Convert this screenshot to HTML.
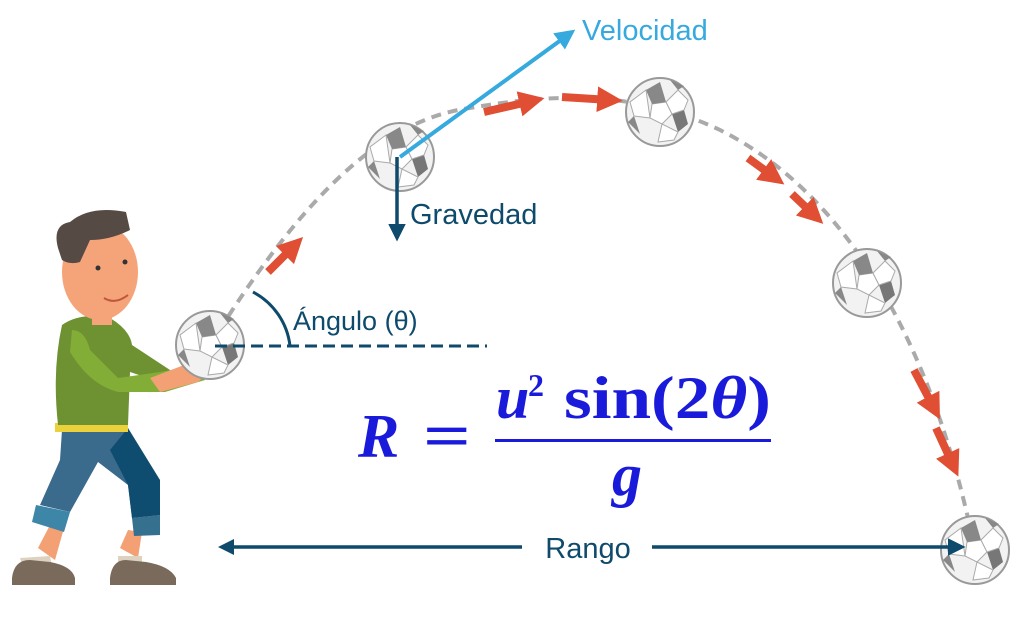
<!DOCTYPE html><html><head><meta charset="utf-8"><style>body{margin:0;background:#fff}svg{display:block}</style></head><body>
<svg width="1024" height="623" viewBox="0 0 1024 623" xmlns="http://www.w3.org/2000/svg" font-family="Liberation Sans, sans-serif">
<defs>
<g id="ball"><circle r="34" fill="#f2f2f2" stroke="#999" stroke-width="2"/>
<polygon points="-8,-8 6,-10 12,2 2,12 -10,6" fill="#fff" stroke="#aaa"/>
<polygon points="12,2 24,-2 28,12 18,20" fill="#777"/>
<polygon points="-8,-8 -14,-22 0,-30 6,-10" fill="#888"/>
<polygon points="-10,6 -26,4 -30,-10 -14,-22" fill="#fff" stroke="#aaa"/>
<polygon points="-26,4 -20,22 -32,10" fill="#888"/>
<polygon points="2,12 -2,30 14,28 18,20" fill="#fff" stroke="#aaa"/>
<polygon points="6,-10 18,-22 28,-12 24,-2 12,2" fill="#fff" stroke="#aaa"/>
<polygon points="18,-22 10,-32 24,-26" fill="#888"/>
</g>
<marker id="ah" viewBox="0 0 10 10" refX="8" refY="5" markerWidth="5" markerHeight="5" orient="auto"><path d="M0,0L10,5L0,10z" fill="#0d4a6b"/></marker>
<marker id="ahb" viewBox="0 0 10 10" refX="8" refY="5" markerWidth="5" markerHeight="5" orient="auto"><path d="M0,0L10,5L0,10z" fill="#36a9de"/></marker>
<marker id="ahr" viewBox="0 0 10 10" refX="5" refY="5" markerWidth="3.2" markerHeight="3.2" orient="auto"><path d="M0,0L10,5L0,10z" fill="#e04e33"/></marker>
</defs>
<!-- trajectory -->
<path d="M210,345 C300,200 380,120 470,108 C560,92 640,92 720,130 C840,190 930,330 975,550" fill="none" stroke="#aaa" stroke-width="4" stroke-dasharray="10,7"/>
<g stroke="#e04e33" stroke-width="8" marker-end="url(#ahr)">
<line x1="268" y1="272" x2="294" y2="246"/>
<line x1="484" y1="112" x2="532" y2="101"/>
<line x1="562" y1="97" x2="610" y2="100"/>
<line x1="748" y1="158" x2="774" y2="177"/>
<line x1="792" y1="194" x2="814" y2="215"/>
<line x1="914" y1="370" x2="934" y2="408"/>
<line x1="936" y1="428" x2="953" y2="465"/>
</g>
<!-- person -->
<g>
<path d="M38,548 L50,525 L64,528 L55,560z" fill="#f2a074"/>
<path d="M120,548 L128,530 L142,532 L138,558z" fill="#f2a074"/>
<path d="M20,558 L50,556 L52,566 L24,570z" fill="#ddd2c0"/>
<path d="M118,556 L142,556 L142,566 L118,568z" fill="#ddd2c0"/>
<path d="M12,578 Q14,560 30,560 L50,562 Q72,566 75,578 L75,585 L12,585z" fill="#7a6a5c"/>
<path d="M110,578 Q112,560 126,560 L146,562 Q170,566 176,578 L176,585 L110,585z" fill="#7a6a5c"/>
<path d="M62,430 L128,428 L130,455 L160,480 L160,515 L132,518 L128,485 L98,462 L70,512 L40,505 L60,460z" fill="#3a6a8c"/>
<path d="M110,450 L128,428 L160,480 L160,515 L132,518 L128,485z" fill="#0f4d70"/>
<path d="M36,505 L70,512 L64,532 L32,522z" fill="#3d86a8"/>
<path d="M132,518 L160,515 L160,535 L134,536z" fill="#35708f"/>
<rect x="55" y="423" width="73" height="9" fill="#ecd23a"/>
<path d="M62,325 Q80,312 110,318 Q130,330 132,345 L170,370 L160,382 L130,372 L128,425 L58,425 Q52,370 62,325z" fill="#6e9232"/>
<path d="M72,330 Q85,330 90,350 L118,378 L160,372 L200,365 L205,380 L165,392 L118,392 Q90,385 70,352z" fill="#82ad37"/>
<path d="M150,378 L192,362 L210,372 L198,382 L160,392z" fill="#f2a074"/>
<ellipse cx="100" cy="272" rx="38" ry="48" fill="#f5a47a"/>
<rect x="92" y="305" width="20" height="20" fill="#f5a47a"/>
<path d="M58,248 Q52,225 70,222 Q90,205 126,212 L130,230 Q110,240 90,240 L80,262 Q70,265 62,260z" fill="#554a44"/>
<circle cx="98" cy="268" r="2.5" fill="#333"/><circle cx="125" cy="262" r="2.5" fill="#333"/>
<path d="M104,298 Q115,305 128,295" stroke="#c0563a" stroke-width="2" fill="none"/>
</g>
<use href="#ball" x="210" y="345"/>
<use href="#ball" x="400" y="157"/>
<use href="#ball" x="660" y="112"/>
<use href="#ball" x="867" y="283"/>
<use href="#ball" x="975" y="550"/>
<!-- angle -->
<line x1="215" y1="346" x2="487" y2="346" stroke="#0d4a6b" stroke-width="3" stroke-dasharray="12,6"/>
<path d="M253,292 A70,70 0 0 1 290,346" fill="none" stroke="#0d4a6b" stroke-width="3"/>
<text x="293" y="330" font-size="27" fill="#0d4a6b">Ángulo (θ)</text>
<!-- velocity -->
<line x1="400" y1="157" x2="572" y2="32" stroke="#36a9de" stroke-width="4" marker-end="url(#ahb)"/>
<text x="582" y="40" font-size="29" fill="#36a9de">Velocidad</text>
<line x1="397" y1="157" x2="397" y2="238" stroke="#0d4a6b" stroke-width="3.5" marker-end="url(#ah)"/>
<text x="410" y="224" font-size="29" fill="#0d4a6b">Gravedad</text>
<!-- range -->
<line x1="225" y1="547" x2="962" y2="547" stroke="#0d4a6b" stroke-width="3.5" marker-end="url(#ah)"/>
<path d="M234,539 L218,547 L234,555z" fill="#0d4a6b"/>
<rect x="522" y="530" width="130" height="34" fill="#fff"/>
<text x="588" y="558" font-size="29" fill="#0d4a6b" text-anchor="middle">Rango</text>
<!-- formula -->
<g fill="#1a1adb" font-family="Liberation Serif, serif" font-weight="bold">
<text x="358" y="457" font-size="62" font-style="italic">R</text>
<text x="423" y="457" font-size="62" textLength="48" lengthAdjust="spacingAndGlyphs">=</text>
<text x="496" y="418" font-size="60" font-style="italic">u</text>
<text x="528" y="396" font-size="32">2</text>
<text x="564" y="418" font-size="60" textLength="207" lengthAdjust="spacingAndGlyphs">sin(2<tspan font-style="italic">θ</tspan>)</text>
<rect x="495" y="439" width="276" height="3"/>
<text x="612" y="495" font-size="60" font-style="italic">g</text>
</g>
</svg>
</body></html>
